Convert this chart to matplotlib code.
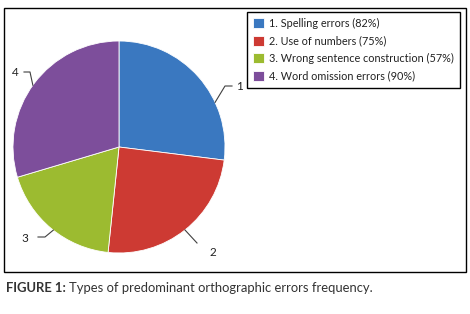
import matplotlib

matplotlib.use("Agg")

import numpy as np
import matplotlib.pyplot as plt
from matplotlib.patches import Rectangle

# data
categories = ["1. Spelling errors", "2. Use of numbers", "3. Wrong sentence construction", "4. Word omission errors"]
short_labels = ["1", "2", "3", "4"]
percentages = [82, 75, 57, 90]

COLORS = ["#3A78C0", "#CD3A33", "#9CBB30", "#7D4E9B"]
FONT = ["Lato", "DejaVu Sans"]

W, H = 470, 314
fig = plt.figure(figsize=(W / 100, H / 100), dpi=100)
fig.patch.set_facecolor("white")

# pie axes placed in pixel coordinates (centre 119,147, radius 106)
cx, cy, r = 119, 147, 106
ax = fig.add_axes([(cx - r) / W, (H - cy - r) / H, 2 * r / W, 2 * r / H])
wedges, _ = ax.pie(
    percentages, colors=COLORS, startangle=90, counterclock=False,
    radius=1, wedgeprops={"linewidth": 0.6, "edgecolor": "white"},
)
ax.set_xlim(-1, 1)
ax.set_ylim(-1, 1)
ax.set_aspect("equal")
ax.axis("off")


def px(x, y):
    return ((x - cx) / r, (cy - y) / r)


# leader line anchors (fraction along each wedge) and label layout in pixels
anchor_frac = [0.67, 0.5, 0.48, 0.49]
bends = [[(225, 86), (232, 86)], [(197, 243)], [(45, 237), (38, 237)], [(30, 72), (24, 72)]]
text_pos = [(236, 86, "left"), (213, 253, "center"), (25, 238, "center"), (15, 72, "center")]

for w, f, bend, (tx, ty, ha), lab in zip(wedges, anchor_frac, bends, text_pos, short_labels):
    ang = np.deg2rad(w.theta2 - f * (w.theta2 - w.theta1))
    pts = [(np.cos(ang), np.sin(ang))] + [px(*b) for b in bend]
    xs, ys = zip(*pts)
    ax.plot(xs, ys, color="#404040", lw=0.8, clip_on=False)
    ax.text(*px(tx, ty), lab, ha=ha, va="center", fontsize=8.5, family=FONT, color="#222222",
            zorder=5)

# legend
leg = fig.legend(
    wedges, [f"{c} ({p}%)" for c, p in zip(categories, percentages)],
    loc="upper right", bbox_to_anchor=(460 / W, 1 - 12 / H),
    frameon=True, fancybox=False, edgecolor="black", framealpha=1,
    handlelength=1.05, handleheight=1.0, handletextpad=0.45, labelspacing=0.6,
    borderpad=0.55, borderaxespad=0, prop={"family": FONT, "size": 7.8},
)
leg.get_frame().set_linewidth(1.0)
for t in leg.get_texts():
    t.set_color("#222222")

# outer frame
fig.patches.append(Rectangle((4 / W, 1 - 272 / H), 462 / W, 264 / H, transform=fig.transFigure,
                             fill=False, edgecolor="black", linewidth=1.0))

# caption
cap = fig.text(6 / W, 1 - 288 / H, "FIGURE 1:", fontsize=9.4, fontweight="bold", family=FONT,
               color="#333333", va="center")
fig.canvas.draw()
bb = cap.get_window_extent()
fig.text(bb.x1 / W + 3 / W, 1 - 288 / H, "Types of predominant orthographic errors frequency.",
         fontsize=9.4, family=FONT, color="#333333", va="center")

fig.savefig("out.png", dpi=100)
